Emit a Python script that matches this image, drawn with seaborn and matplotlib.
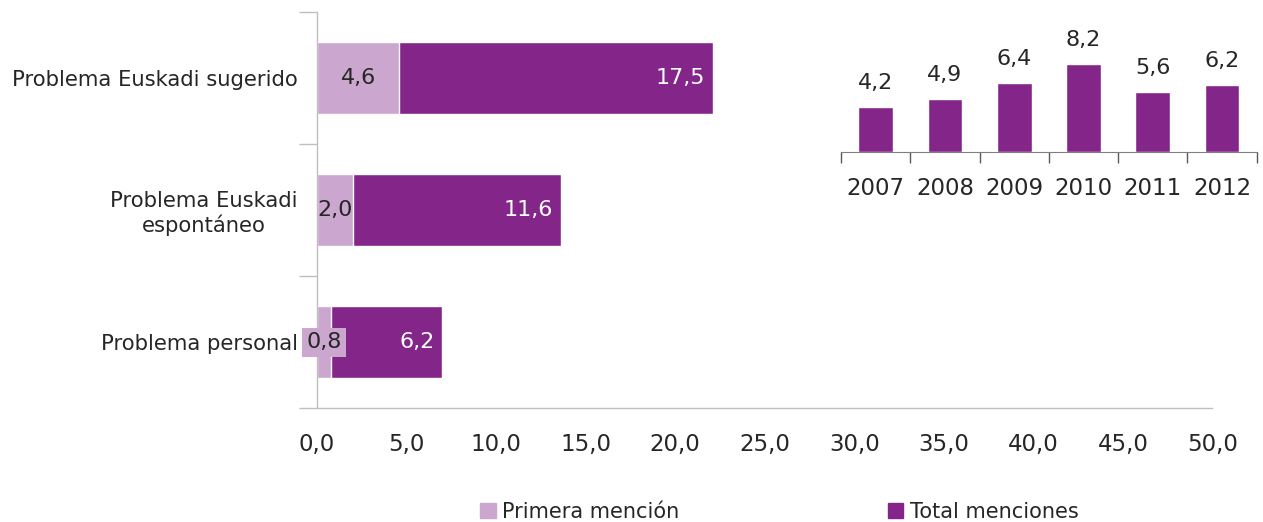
import matplotlib
matplotlib.use("Agg")
import matplotlib.pyplot as plt
import matplotlib.patches as mpatches
from matplotlib.ticker import FuncFormatter, FixedLocator
import seaborn as sns
import pandas as pd

# Data
categories = ["Problema Euskadi sugerido", "Problema Euskadi\nespontáneo", "Problema personal"]
primera = [4.6, 2.0, 0.8]
total = [17.5, 11.6, 6.2]

years = ["2007", "2008", "2009", "2010", "2011", "2012"]
year_values = [4.2, 4.9, 6.4, 8.2, 5.6, 6.2]

light = "#CBA7CF"
dark = "#842689"
axis_grey = "#BFBFBF"
text_col = "#262626"

sns.set_style("white")
plt.rcParams["font.family"] = ["DejaVu Sans"]
plt.rcParams["text.color"] = text_col
plt.rcParams["xtick.color"] = axis_grey
plt.rcParams["ytick.color"] = axis_grey


def comma(v):
    return f"{v:.1f}".replace(".", ",")


df = pd.DataFrame({"cat": categories, "primera": primera, "total": total})
df["stack"] = df["primera"] + df["total"]

fig = plt.figure(figsize=(12.63, 5.22), dpi=100)
ax = fig.add_axes([0.251, 0.218, 0.709, 0.759])

# stacked bars: full length in dark, first mention drawn over it
sns.barplot(data=df, x="stack", y="cat", color=dark, width=0.55, orient="h",
            saturation=1, ax=ax)
sns.barplot(data=df, x="primera", y="cat", color=light, width=0.55, orient="h",
            saturation=1, ax=ax)

ax.set_xlim(0, 50)
ax.set_ylim(2.5, -0.5)
ax.set_xticks(range(0, 51, 5))
ax.xaxis.set_major_formatter(FuncFormatter(lambda v, p: comma(v)))
ax.tick_params(axis="x", length=8, width=1, pad=10, labelsize=16.5, labelcolor=text_col)
ax.set_yticks(range(len(categories)))
ax.set_yticklabels(categories, multialignment="center")
ax.yaxis.set_minor_locator(FixedLocator([-0.5, 0.5, 1.5, 2.5]))
ax.tick_params(axis="y", which="major", length=0, pad=14, labelsize=15.2, labelcolor=text_col)
ax.tick_params(axis="y", which="minor", length=13, width=1, color=axis_grey, left=True)
ax.set_xlabel("")
ax.set_ylabel("")
for s in ["top", "right"]:
    ax.spines[s].set_visible(False)
for s in ["left", "bottom"]:
    ax.spines[s].set_color(axis_grey)
    ax.spines[s].set_linewidth(1)

# labels
for i, row in df.iterrows():
    kw = {}
    if row["primera"] < 1.5:
        kw["bbox"] = dict(boxstyle="square,pad=0.2", fc=light, ec="none")
    ax.text(row["primera"] / 2, i, comma(row["primera"]), ha="center", va="center",
            fontsize=16, color=text_col, **kw)
    ax.annotate(comma(row["total"]), (row["stack"], i), xytext=(-8, 0),
                textcoords="offset pixels", ha="right", va="center",
                fontsize=16, color="white")

# legend
handles = [mpatches.Patch(color=light, label="Primera mención"),
           mpatches.Patch(color=dark, label="Total menciones")]
fig.legend(handles=handles, loc="lower center", bbox_to_anchor=(0.617, -0.035), ncol=2,
           frameon=False, fontsize=15, handlelength=0.75, handleheight=0.75,
           handletextpad=0.3, columnspacing=10)

# inset: yearly values
ax2 = fig.add_axes([0.666, 0.709, 0.329, 0.185])
sns.barplot(x=years, y=year_values, color=dark, width=0.5, saturation=1, ax=ax2)
ax2.set_xlim(-0.5, 5.5)
ax2.set_ylim(0, 9)
ax2.set_yticks([])
ax2.xaxis.set_minor_locator(FixedLocator([-0.5, 0.5, 1.5, 2.5, 3.5, 4.5, 5.5]))
ax2.tick_params(axis="x", which="major", length=0, pad=18, labelsize=16.5, labelcolor=text_col)
ax2.tick_params(axis="x", which="minor", length=8, width=1, color="#595959", bottom=True)
for s in ["top", "right", "left"]:
    ax2.spines[s].set_visible(False)
ax2.spines["bottom"].set_color("#808080")
ax2.bar_label(ax2.containers[0], labels=[comma(v) for v in year_values],
              padding=10, fontsize=16, color=text_col)

fig.savefig("out.png", dpi=100, facecolor="white")
